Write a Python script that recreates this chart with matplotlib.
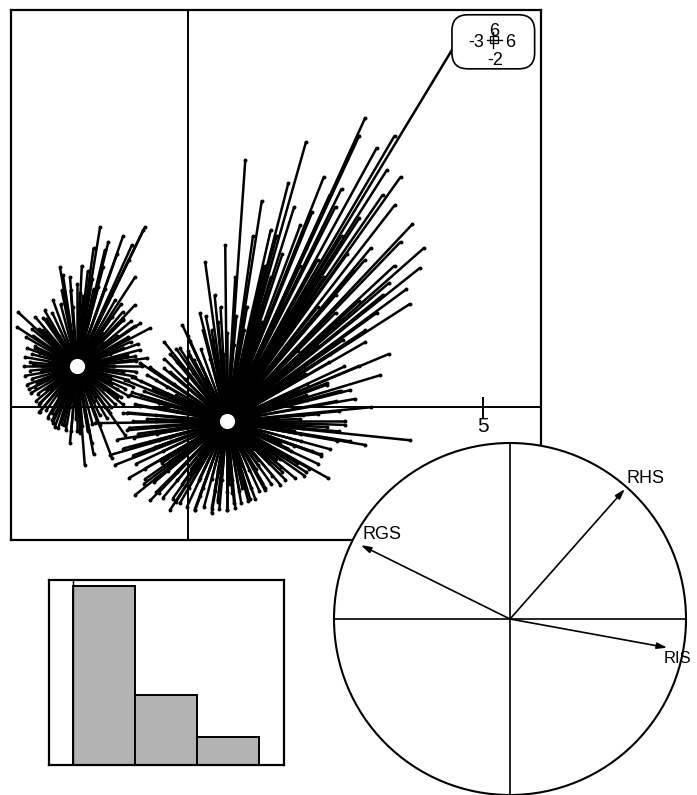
import numpy as np
import matplotlib.pyplot as plt
from matplotlib.collections import LineCollection
from matplotlib.patches import Circle, FancyBboxPatch

plt.rcParams['font.family'] = ['Liberation Sans', 'DejaVu Sans']

# group 1 (left cloud): centroid and individual scores
g1_center = (-1.88, 0.69)
g1_x = [-1.49, -0.73, -0.76, -1.41, -1.44, -2.17, -2.12, -1.83, -2.14, -0.90,
        -0.64, -0.81, -0.69, -1.03, -1.29, -2.88, -2.90, -2.63, -2.51, -2.56,
        -2.46, -2.51, -2.51, -2.29, -2.20, -1.83, -1.75, -1.63, -1.32, -1.07,
        -1.20, -1.32, -1.29,
        -2.40, -2.30, -1.50, -1.30, -1.60, -2.20, -2.00, -1.70, -1.40, -2.50,
        -2.30, -1.90, -1.50, -1.10, -1.10, -2.60, -2.00, -1.60, -1.20, -1.80,
        -1.60, -1.30, -1.10, -2.40, -2.70, -2.00, -1.40, -1.20, -1.70, -2.10,
        -2.35, -2.45, -1.95, -1.55, -1.25, -2.20, -2.05, -1.45,
        -0.88, -0.82, -0.97, -0.90, -1.10, -1.13, -1.37, -1.52, -1.78, -1.99,
        -2.16, -2.30, -2.45, -2.52, -2.62, -2.60, -2.65, -2.68, -2.68, -2.65,
        -2.60, -2.54, -2.52, -2.40, -2.30, -2.14, -1.98, -1.79, -1.62, -1.50,
        -1.36, -1.24, -1.14, -1.06, -1.01, -0.88,
        -1.28, -1.32, -1.42, -1.58, -1.78, -1.98, -2.18, -2.34, -2.44, -2.48,
        -2.44, -2.34, -2.18, -1.98, -1.78, -1.58, -1.42, -1.32,
        -1.20, -1.00, -0.90, -1.35, -1.60, -1.10, -0.95, -2.00, -1.70,
        -0.78, -0.90, -0.85, -1.01, -0.96, -1.11, -1.23, -1.40, -1.62, -1.88,
        -2.11, -2.29, -2.43, -2.59, -2.65, -2.75, -2.73, -2.77, -2.78, -2.77,
        -2.73, -2.66, -2.57, -2.52, -2.38, -2.26, -2.07, -1.88, -1.69, -1.54,
        -1.38, -1.30, -1.11, -1.01, -0.94, -0.90]
g1_y = [3.05, 3.05, 3.00, 2.66, 2.37, 2.37, 2.24, 1.93, 1.98, 1.73,
        1.34, 1.42, 0.83, 0.88, 1.53, 1.61, 1.36, 0.71, 0.92, 0.41,
        1.31, 0.07, -0.08, -0.27, -0.36, -0.44, -0.98, -0.61, -0.10, -0.47,
        0.17, 0.51, -0.86,
        0.30, 1.00, 1.10, 0.40, 0.10, 0.20, 1.40, 1.50, 0.80, 0.60,
        -0.10, -0.20, -0.30, 0.60, 1.00, 1.00, -0.60, -0.80, 1.20, 2.40,
        2.00, 1.90, 1.50, 1.50, 0.30, 0.00, 0.00, 0.30, -0.40, -0.30,
        0.75, 1.20, 1.70, 0.55, 0.70, -0.05, 0.35, 1.25,
        0.78, 0.97, 1.11, 1.38, 1.47, 1.75, 1.78, 2.04, 1.89, 1.98,
        1.75, 1.60, 1.51, 1.33, 1.21, 1.03, 0.90, 0.76, 0.62, 0.48,
        0.35, 0.23, 0.05, -0.05, -0.22, -0.28, -0.41, -0.31, -0.28, -0.13,
        -0.05, 0.05, 0.17, 0.31, 0.46, 0.60,
        0.69, 0.90, 1.08, 1.21, 1.28, 1.28, 1.21, 1.08, 0.90, 0.69,
        0.48, 0.30, 0.17, 0.10, 0.10, 0.17, 0.30, 0.48,
        2.60, 2.50, 2.20, 2.80, 2.70, 2.90, 2.75, 2.20, 2.30,
        0.69, 0.86, 1.07, 1.19, 1.46, 1.61, 1.82, 2.01, 2.17, 2.09,
        1.97, 1.82, 1.64, 1.53, 1.33, 1.19, 1.00, 0.85, 0.69, 0.53,
        0.38, 0.24, 0.11, -0.08, -0.18, -0.34, -0.39, -0.41, -0.39, -0.25,
        -0.18, 0.00, 0.05, 0.19, 0.35, 0.52]

# group 2 (main cloud): centroid and individual scores
g2_center = (0.66, -0.24)
g2_x = [4.50, 3.00, 3.37, 3.50, 3.93, 3.76, 2.40, 1.90, 2.90, 3.10,
        2.60, 2.20, 3.40, 2.80, 3.20, 2.50, 1.60, 2.00, 1.40, 2.70,
        2.30, 3.20, 1.80, 2.10, 3.60, 2.60, 3.00, 1.70,
        0.97, 1.25, 0.63, 0.29, 1.10, 0.80, 1.40, 0.45, 1.00, 0.20,
        -0.14, -0.81, -0.95, -1.07, -0.40, -0.10, -0.60, -0.30, 0.00, -0.80,
        -1.58, -1.10, -1.00, -0.90, -1.20, -0.70,
        -1.32, -1.24, -0.90, -0.64, -0.31, -1.00, -0.75, -0.50, -1.10, -0.20,
        0.12, 0.40, 0.66, 0.92, 0.20, 0.50, 0.80, 1.05,
        1.19, 1.49, 1.85, 2.37, 1.30, 1.60, 2.00, 1.20,
        2.75, 2.36, 2.20, 3.00, 3.76, 2.66, 2.75, 3.25, 2.36, 1.98,
        3.10, 2.50, 3.40, 2.90, 2.40, 3.00,
        1.50, 1.30, 0.90, 0.30, -0.20, -0.30, 0.00, 0.50, 1.10, 1.60,
        1.80, 1.20, 0.60, -0.10, -0.40, 0.20, 0.90, 1.70, 2.00, 1.60,
        0.10, -0.50, -0.60, -0.10, 0.70, 1.40, 1.90, 1.40, 0.40, -0.30,
        -0.85, -0.45, 0.05, 0.35, 0.75, 1.15, 1.55, 2.10, 1.75, 1.25,
        -0.95, -0.70, -0.35, 0.00, 0.30, 0.95, 1.35, 1.85, 2.25, 0.55,
        2.55, 1.95, 2.59, 2.01, 2.65, 2.02, 2.63, 1.97, 2.50, 1.86,
        2.09, 1.58, 1.59, 1.29, 1.18, 1.02, 0.82, 0.77, 0.51, 0.56,
        0.25, 0.38, 0.03, 0.24, -0.20, 0.09, -0.40, -0.05, -0.65, -0.24,
        -0.79, -0.34, -0.98, -0.50, -1.03, -0.54, -1.03, -0.54, -0.98, -0.50,
        -0.88, -0.43, -0.73, -0.32, -0.54, -0.19, -0.26, 0.03, -0.02, 0.19,
        0.27, 0.40, 0.53, 0.57, 0.78, 0.75, 1.02, 0.89, 1.21, 1.04,
        1.41, 1.18, 1.65, 1.37, 1.97, 1.56, 2.20, 1.75, 2.40, 1.92,
        2.55, 1.95,
        3.60, 2.50, 3.80, 3.30, 2.00, 3.00, 4.00, 2.70, 3.50, 2.30,
        1.90, 3.30, 2.90, 3.70, 2.20, 1.50, 1.30, 1.70, 2.60, 2.90,
        3.50, 2.00,
        2.66, 2.83, 2.35, 2.39, 2.19, 1.95, 1.56, 1.21, 0.92, 0.66,
        0.42, 0.22, 0.01, -0.18, -0.41, -0.55, -0.75, -0.82, -0.94, -0.92,
        -0.94, -0.73, -0.57, -0.43, -0.14, 0.11, 0.40, 0.66, 0.90, 1.14,
        1.31, 1.56, 1.81, 2.05, 2.26, 2.53,
        -0.54, -0.52, -0.56, -0.47, -0.34, -0.18, 0.01, 0.25, 0.45, 0.66,
        0.87, 1.07, 1.26, 1.43, 1.58, 1.70, 1.79, 1.91]
g2_y = [6.10, 4.90, 4.02, 3.42, 2.36, 1.75, 3.60, 3.08, 3.20, 2.70,
        2.90, 2.50, 2.10, 2.30, 1.60, 1.90, 2.60, 2.00, 2.20, 4.20,
        3.90, 4.40, 3.40, 3.30, 2.80, 1.50, 1.30, 1.60,
        4.19, 3.50, 2.75, 2.46, 2.90, 2.20, 3.00, 1.90, 1.70, 1.60,
        1.00, 0.75, 0.51, 0.46, 1.10, 1.40, 0.30, 0.60, 1.20, 0.20,
        -0.27, -0.10, -0.35, 0.05, -0.55, -0.20,
        -0.81, -0.98, -1.49, -1.58, -1.75, -1.20, -1.30, -1.45, -0.70, -1.60,
        -1.75, -1.80, -1.75, -1.37, -1.50, -1.60, -1.70, -1.55,
        -0.90, -0.88, -0.95, -1.20, -1.40, -1.10, -1.10, -1.20,
        -0.58, -0.34, -0.12, -0.64, -0.56, -0.30, 0.29, 0.54, 0.41, 0.56,
        0.00, 0.10, 0.90, 0.70, 0.90, 1.10,
        -0.20, 0.30, 0.60, 0.50, 0.20, -0.50, -0.90, -1.10, -0.70, 0.10,
        -0.40, 0.80, 0.90, -0.20, -0.90, -1.20, -1.00, -0.70, 0.20, 0.90,
        0.80, 0.00, -0.70, -1.30, -1.30, -0.50, -0.20, 1.10, 1.30, 0.90,
        -0.45, -0.95, -1.05, -0.60, -1.45, -1.05, -0.60, -0.75, 0.45, 1.45,
        0.25, 0.55, 0.35, 0.95, 1.55, 1.30, 0.65, 0.30, -0.80, 1.70,
        -0.07, -0.13, 0.28, 0.12, 0.69, 0.39, 1.14, 0.68, 1.60, 0.96,
        1.81, 1.07, 1.75, 1.12, 1.69, 1.11, 1.55, 1.05, 1.45, 0.96,
        1.31, 0.82, 1.12, 0.67, 0.99, 0.58, 0.82, 0.47, 0.68, 0.39,
        0.44, 0.23, 0.20, 0.07, -0.09, -0.14, -0.39, -0.34, -0.68, -0.55,
        -0.96, -0.75, -1.22, -0.93, -1.44, -1.09, -1.55, -1.14, -1.69, -1.24,
        -1.69, -1.21, -1.73, -1.24, -1.63, -1.24, -1.59, -1.11, -1.42, -1.06,
        -1.30, -0.98, -1.23, -0.95, -1.16, -0.87, -0.96, -0.75, -0.71, -0.58,
        -0.41, -0.35,
        3.90, 3.40, 3.10, 3.60, 2.70, 2.50, 2.70, 2.60, 2.40, 2.20,
        2.40, 1.90, 1.80, 2.00, 1.70, 2.90, 2.40, 3.80, 3.70, 4.60,
        4.60, 4.50,
        -0.24, 0.14, 0.38, 0.76, 1.05, 1.29, 1.32, 1.26, 1.24, 1.26,
        1.14, 0.98, 0.89, 0.76, 0.66, 0.46, 0.27, 0.02, -0.24, -0.52,
        -0.82, -1.04, -1.27, -1.54, -1.63, -1.74, -1.72, -1.74, -1.62, -1.56,
        -1.37, -1.31, -1.20, -1.04, -0.82, -0.57,
        -0.24, -0.45, -0.68, -0.89, -1.08, -1.24, -1.37, -1.37, -1.42, -1.44,
        -1.42, -1.37, -1.28, -1.16, -1.01, -0.84, -0.65, -0.46]

# correlation circle: variables and their loadings on axes 1-2
var_names = ['RGS', 'RHS', 'RIS']
var_x = [-0.848, 0.653, 0.894]
var_y = [0.420, 0.739, -0.163]

# eigenvalues
eigen = [1.94, 0.76, 0.30]

xlim = (-3.0, 5.98)
ylim = (-2.25, 6.73)
tick_x = 5

fig = plt.figure(figsize=(6.97, 7.95), dpi=100)

# ---- main scatter with stars ----
ax = fig.add_axes([11 / 697, 255 / 795, 530 / 697, 530 / 795])
ax.set_xlim(*xlim)
ax.set_ylim(*ylim)
ax.set_xticks([])
ax.set_yticks([])
for s in ax.spines.values():
    s.set_linewidth(1.6)

ax.axhline(0, color='black', lw=1.4, zorder=1)
ax.axvline(0, color='black', lw=1.4, zorder=1)
ax.plot([tick_x, tick_x], [-0.17, 0.15], color='black', lw=1.4, zorder=1)
ax.text(tick_x, -0.16, str(tick_x), ha='center', va='top', fontsize=15)

for cx_cy, xs, ys in [(g1_center, g1_x, g1_y), (g2_center, g2_x, g2_y)]:
    segs = [[cx_cy, (x, y)] for x, y in zip(xs, ys)]
    ax.add_collection(LineCollection(segs, colors='black', linewidths=1.8, zorder=2))
    ax.scatter(xs, ys, s=8, color='black', zorder=3, linewidths=0)

centers = np.array([g1_center, g2_center])
ax.scatter(centers[:, 0], centers[:, 1], s=120, color='white', zorder=4, linewidths=0)

# range box in the top right corner
bx, by = 0.910, 0.940
box = FancyBboxPatch((bx - 0.062, by - 0.035), 0.124, 0.07,
                     boxstyle='round,pad=0.016,rounding_size=0.03',
                     transform=ax.transAxes, facecolor='white', edgecolor='black',
                     lw=1.2, zorder=5)
ax.add_patch(box)
ax.text(bx - 0.033, by - 0.002, '-3', transform=ax.transAxes, ha='center', va='center', fontsize=13, zorder=6)
ax.text(bx + 0.031, by - 0.002, '6', transform=ax.transAxes, ha='center', va='center', fontsize=13, zorder=6)
ax.text(bx + 0.001, by + 0.02, '6', transform=ax.transAxes, ha='center', va='center', fontsize=13, zorder=6)
ax.text(bx + 0.003, by - 0.036, '-2', transform=ax.transAxes, ha='center', va='center', fontsize=13, zorder=6)
ax.plot([bx - 0.012, bx + 0.016], [by + 0.004, by + 0.004], transform=ax.transAxes, color='black', lw=1.0, zorder=6)
ax.plot([bx + 0.0, bx + 0.0], [by - 0.012, by + 0.018], transform=ax.transAxes, color='black', lw=1.0, zorder=6)
ax.add_patch(plt.Rectangle((bx - 0.006, by - 0.003), 0.014, 0.014, transform=ax.transAxes,
                           fill=False, edgecolor='black', lw=0.9, zorder=6))

# ---- correlation circle ----
cax = fig.add_axes([334 / 697, 0, 352 / 697, 352 / 795])
cax.set_xlim(-1, 1)
cax.set_ylim(-1, 1)
cax.set_aspect('equal')
cax.axis('off')
cax.add_patch(Circle((0, 0), 1, facecolor='white', edgecolor='black', lw=1.5, clip_on=False, zorder=1))
cax.plot([-1, 1], [0, 0], color='black', lw=1.2, clip_on=False, zorder=2)
cax.plot([0, 0], [-1, 1], color='black', lw=1.2, clip_on=False, zorder=2)
for name, vx, vy in zip(var_names, var_x, var_y):
    cax.annotate('', xy=(vx, vy), xytext=(0, 0),
                 arrowprops=dict(arrowstyle='-|>,head_length=0.6,head_width=0.18',
                                 color='black', lw=1.2, shrinkA=0, shrinkB=0),
                 zorder=3, annotation_clip=False)
    va = 'bottom' if vy > 0 else 'top'
    size = 13 if vy > 0 else 12
    cax.text(vx + (0.01 if vy > 0 else -0.02), vy + (0.01 if vy > 0 else -0.02), name,
             ha='left', va=va, fontsize=size, zorder=4, clip_on=False)

# ---- eigenvalue barplot ----
bax = fig.add_axes([49 / 697, 30 / 795, 235 / 697, 185 / 795])
bax.bar(np.arange(len(eigen)), eigen, width=1, align='edge', color='#b3b3b3',
        edgecolor='black', lw=1.4)
bax.axvline(0, color='black', lw=1.0)
bax.set_xlim(-0.387, 3.403)
bax.set_ylim(0, 2.0)
bax.set_xticks([])
bax.set_yticks([])
for s in bax.spines.values():
    s.set_linewidth(1.6)

fig.savefig('out.png', dpi=100)
